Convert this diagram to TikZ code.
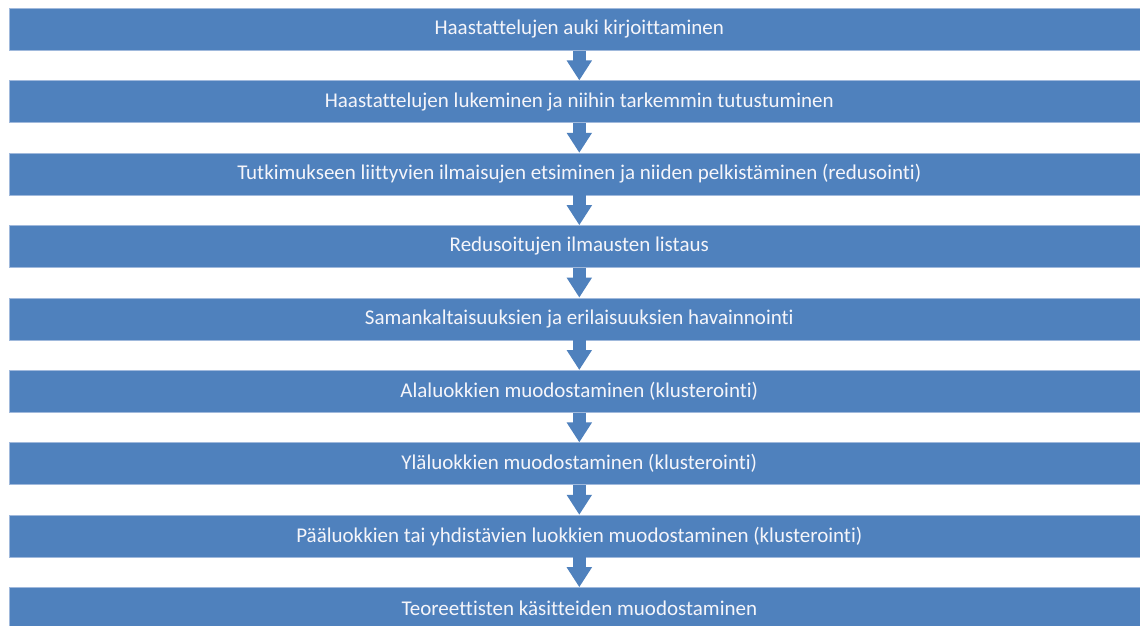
\documentclass[tikz,border=0pt]{standalone}
\usepackage{fontspec}
\setmainfont[Ligatures=NoCommon]{Carlito}
\usetikzlibrary{arrows.meta}
\definecolor{boxblue}{RGB}{79,129,189}
\definecolor{boxedge}{RGB}{160,185,220}
\definecolor{boxtext}{RGB}{245,245,250}
\tikzset{
  stepbox/.style={rectangle, fill=boxblue, draw=boxedge, line width=0.6pt,
    minimum width=1140pt, minimum height=42pt, inner sep=0pt, anchor=north west,
    text=boxtext, font=\fontsize{21}{25}\selectfont},
  flowarrow/.style={draw=boxblue, line width=13pt,
    -{Triangle[width=24pt,length=20pt,fill=boxblue]}, shorten >=0pt}
}
\begin{document}
\begin{tikzpicture}[x=1pt,y=-1pt]
\useasboundingbox (0,0) rectangle (1140,626);
\fill[white] (0,0) rectangle (1140,626);
\node[stepbox] (s1) at (9,8.0) {Haastattelujen auki kirjoittaminen};
\node[stepbox] (s2) at (9,80.4) {Haastattelujen lukeminen ja niihin tarkemmin tutustuminen};
\node[stepbox] (s3) at (9,152.8) {Tutkimukseen liittyvien ilmaisujen etsiminen ja niiden pelkistäminen (redusointi)};
\node[stepbox] (s4) at (9,225.2) {Redusoitujen ilmausten listaus};
\node[stepbox] (s5) at (9,297.6) {Samankaltaisuuksien ja erilaisuuksien havainnointi};
\node[stepbox] (s6) at (9,370.0) {Alaluokkien muodostaminen (klusterointi)};
\node[stepbox] (s7) at (9,442.4) {Yläluokkien muodostaminen (klusterointi)};
\node[stepbox] (s8) at (9,514.8) {Pääluokkien tai yhdistävien luokkien muodostaminen (klusterointi)};
\node[stepbox] (s9) at (9,587.2) {Teoreettisten käsitteiden muodostaminen};
\foreach \a/\b in {s1/s2,s2/s3,s3/s4,s4/s5,s5/s6,s6/s7,s7/s8,s8/s9}{
  \draw[flowarrow] (\a.south) -- (\b.north);
}
\end{tikzpicture}
\end{document}
